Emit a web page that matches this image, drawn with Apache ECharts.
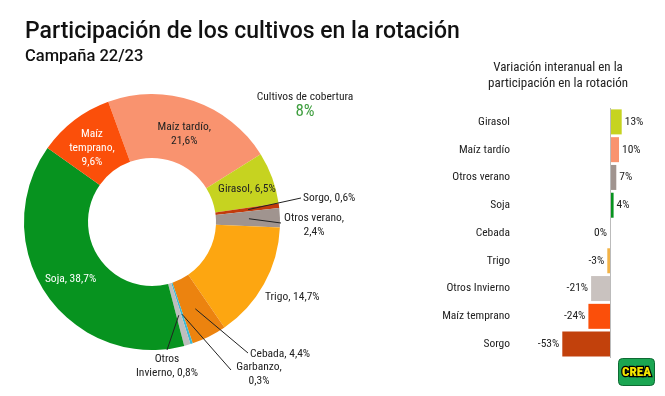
<!DOCTYPE html>
<html><head><meta charset="utf-8">
<script src="https://cdn.jsdelivr.net/npm/echarts@6/dist/echarts.min.js"></script>
<style>html,body{margin:0;padding:0;background:#fff}#c{width:665px;height:396px}</style>
</head><body><div id="c"></div>
<script>
// ---- data ----
const pieNames = ['Maíz tardío','Girasol','Sorgo','Otros verano','Trigo','Cebada','Garbanzo','Otros Invierno','Soja','Maíz temprano'];
const pieValues = [21.6, 6.5, 0.6, 2.4, 14.7, 4.4, 0.3, 0.8, 38.7, 9.6];
const barCategories = ['Girasol','Maíz tardío','Otros verano','Soja','Cebada','Trigo','Otros Invierno','Maíz temprano','Sorgo'];
const barValues = [13, 10, 7, 4, 0, -3, -21, -24, -53];
const coverLabel = 'Cultivos de cobertura';
const coverValue = 8;

// ---- styles ----
const FONT = "'Roboto Condensed','Liberation Sans Narrow',Roboto,sans-serif";
const TITLE_FONT = "Roboto,'Noto Sans',sans-serif";
const PIE_CENTER = [152, 222];
const PIE_RADIUS = [64, 128];
const PIE_START = 110;
const pieColors = {
  'Maíz tardío':'#F9936F','Girasol':'#C6D320','Sorgo':'#C23B0C','Otros verano':'#A0948F',
  'Trigo':'#FDA611','Cebada':'#EC830F','Garbanzo':'#3DB8D3','Otros Invierno':'#BEBEBE',
  'Soja':'#07931F','Maíz temprano':'#FB4F0A'
};
const barColors = {
  'Girasol':'#C6D320','Maíz tardío':'#F9936F','Otros verano':'#A0948F','Soja':'#07931F',
  'Cebada':'#EC830F','Trigo':'#F3B347','Otros Invierno':'#C9C2BF','Maíz temprano':'#FB4F0A','Sorgo':'#C2410C'
};
// label style per slice: inside/outside, break style, colour, placement, leader end
const labelCfg = {
  'Maíz tardío':   {pos:'inside', br:'after', color:'#222', dy:6},
  'Girasol':       {pos:'inside', br:'none',  color:'#222', dx:2, dy:1},
  'Sorgo':         {pos:'outside', br:'none', x:303, y:198, align:'left', end:[301,198]},
  'Otros verano':  {pos:'outside', br:'after', x:314, y:225, align:'center', end:[281,223]},
  'Trigo':         {pos:'outside', br:'none', x:265, y:297, align:'left'},
  'Cebada':        {pos:'outside', br:'none', x:250, y:354, align:'left', end:[248,353]},
  'Garbanzo':      {pos:'outside', br:'after', x:259, y:374, align:'center', end:[231,370]},
  'Otros Invierno':{pos:'outside', br:'word', x:167, y:366, align:'center', end:[167,350]},
  'Soja':          {pos:'inside', br:'none', color:'#fff', dy:1},
  'Maíz temprano': {pos:'inside', br:'both', color:'#fff', dy:5}
};
function fmtNum(v){ return String(v).replace('.', ','); }
function labelText(name, v){
  const c = labelCfg[name]; const p = fmtNum(v) + '%';
  if (c.br === 'after') return name + ',\n' + p;
  if (c.br === 'word') { const i = name.indexOf(' '); return name.slice(0,i) + '\n' + name.slice(i+1) + ', ' + p; }
  if (c.br === 'both') { const i = name.indexOf(' '); return name.slice(0,i) + '\n' + name.slice(i+1) + ',\n' + p; }
  return name + ', ' + p;
}
// mid-ring point of a slice (leader line start), from the slice's share of the total
const pieTotal = pieValues.reduce((a, b) => a + b, 0);
function sliceMidPoint(idx) {
  let before = 0;
  for (let k = 0; k < idx; k++) before += pieValues[k];
  const frac = (before + pieValues[idx] / 2) / pieTotal;
  const ang = (PIE_START - frac * 360) * Math.PI / 180; // clockwise from startAngle
  const r = (PIE_RADIUS[0] + PIE_RADIUS[1]) / 2 + 1;
  return [PIE_CENTER[0] + r * Math.cos(ang), PIE_CENTER[1] - r * Math.sin(ang)];
}

const pieData = pieNames.map((n, i) => {
  const c = labelCfg[n];
  return {
    name: n, value: pieValues[i],
    itemStyle: {color: pieColors[n]},
    label: {position: c.pos, color: c.color || '#222'}
  };
});

const leaderLines = pieNames.map((n, i) => {
  const c = labelCfg[n];
  if (!c.end) return null;
  return {type: 'polyline', z: 100, silent: true,
    shape: {points: [sliceMidPoint(i), c.end]},
    style: {stroke: '#222', lineWidth: 1, fill: null}};
}).filter(Boolean);

const barData = barCategories.map((n, i) => ({
  value: barValues[i],
  itemStyle: {color: barColors[n]},
  label: {position: barValues[i] > 0 ? 'right' : 'left'}
}));

const chart = echarts.init(document.getElementById('c'), null, {renderer:'canvas'});
chart.setOption({
  backgroundColor: '#fff',
  animation: false,
  textStyle: {fontFamily: FONT},
  title: [
    {text: 'Participación de los cultivos en la rotación', left: 20, top: 16,
     textStyle: {fontFamily: TITLE_FONT, fontSize: 23, fontWeight: 500, color: '#111'}},
    {text: 'Campaña 22/23', left: 20, top: 43,
     textStyle: {fontFamily: TITLE_FONT, fontSize: 16.5, fontWeight: 500, color: '#111'}},
    {text: 'Variación interanual en la\nparticipación en la rotación', left: 553, top: 55, textAlign: 'center',
     textStyle: {fontFamily: FONT, fontSize: 13, fontWeight: 'normal', color: '#222', lineHeight: 16}},
    {text: coverLabel, subtext: coverValue + '%', left: 300, top: 86, textAlign: 'center', itemGap: 0,
     textStyle: {fontFamily: FONT, fontSize: 11.5, fontWeight: 'normal', color: '#222'},
     subtextStyle: {fontFamily: FONT, fontSize: 17, color: '#3E9E3E', fontWeight: 'normal'}}
  ],
  grid: {left: 520, width: 135, top: 108, height: 250, containLabel: false},
  xAxis: {type: 'value', min: -100, max: 50, show: false, splitLine: {show: false}},
  yAxis: {type: 'category', data: barCategories, inverse: true,
    axisLine: {show: false}, axisTick: {show: false}, splitLine: {show: false},
    axisLabel: {fontFamily: FONT, fontSize: 11.5, color: '#222', margin: 10}},
  series: [
    {
      type: 'pie', center: PIE_CENTER, radius: PIE_RADIUS, startAngle: PIE_START, clockwise: true,
      avoidLabelOverlap: false, silent: true,
      data: pieData,
      label: {
        fontFamily: FONT, fontSize: 11.5, lineHeight: 14, color: '#222',
        formatter: p => labelText(p.name, p.value)
      },
      labelLine: {show: false},
      labelLayout: function (params) {
        const c = labelCfg[pieNames[params.dataIndex]];
        if (c.pos !== 'outside') return {dx: c.dx || 0, dy: c.dy || 0};
        return {x: c.x, y: c.y, align: c.align, verticalAlign: 'middle'};
      }
    },
    {
      type: 'bar', data: barData, barCategoryGap: '10%', silent: true,
      label: {show: true, fontFamily: FONT, fontSize: 11.5, color: '#222', distance: 3,
        formatter: p => p.value + '%'},
      markLine: {silent: true, symbol: 'none', label: {show: false},
        lineStyle: {color: '#BBB', type: 'solid', width: 1},
        data: [{xAxis: 0}]}
    }
  ],
  graphic: leaderLines.concat([{
    type: 'group', left: 618, top: 358,
    children: [
      {type: 'rect', shape: {x: 0, y: 0, width: 36, height: 27, r: 4},
       style: {fill: '#1BA652', stroke: '#0E6A33', lineWidth: 1}},
      {type: 'text', x: 18, y: 14,
       style: {text: 'CREA', fontFamily: FONT, fontSize: 13, fontWeight: 900, fill: '#F3E500',
         stroke: '#000', lineWidth: 2.5, align: 'center', verticalAlign: 'middle'}}
    ]
  }])
});
</script></body></html>
